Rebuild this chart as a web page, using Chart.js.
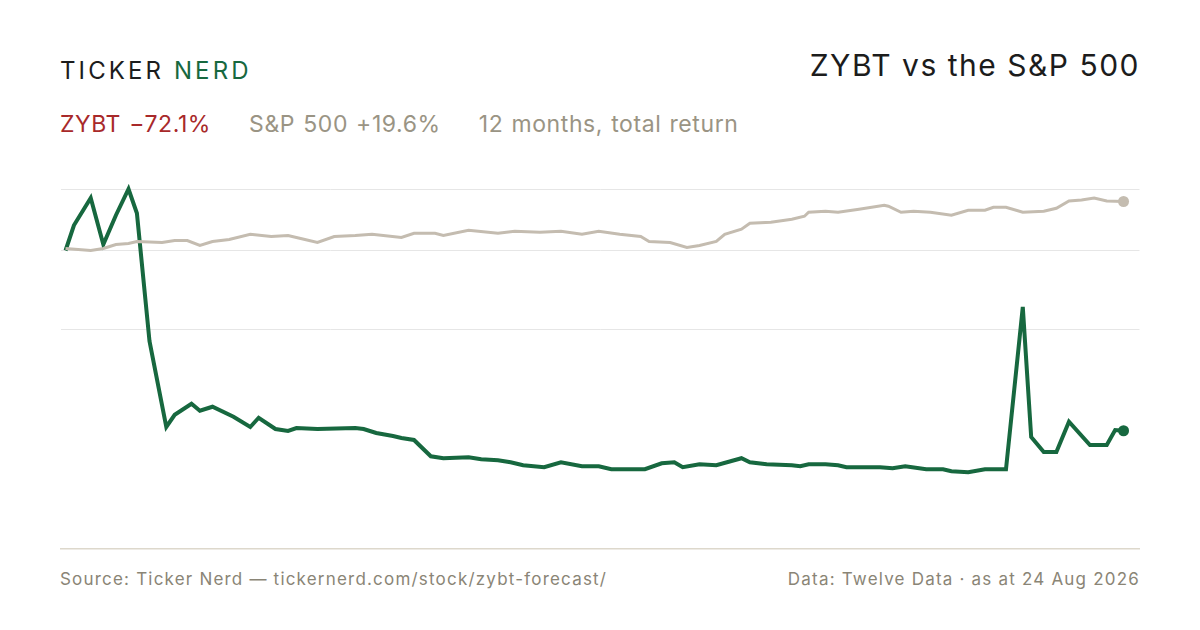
<!DOCTYPE html>
<html><head><meta charset="utf-8">
<script src="https://cdn.jsdelivr.net/npm/chart.js@4"></script>
<style>
body{margin:0;width:1200px;height:630px;background:#fff;font-family:Inter,"Noto Sans",sans-serif;position:relative;overflow:hidden}
.abs{position:absolute;white-space:nowrap}
#logo{left:60px;top:56px;font-size:24px;letter-spacing:3.1px;color:#1c1c1c}
#logo span{color:#17683f}
#title{right:60px;top:47px;font-size:30px;letter-spacing:1.5px;color:#1c1c1c}
#sub{left:60px;top:110px;font-size:23px;letter-spacing:0.6px;color:#9a9484;word-spacing:1px}
#sub .r{color:#a8292a}
#sub .g{margin-left:38px}
#foot1{left:60px;top:569px;font-size:17px;letter-spacing:1.2px;color:#8a8576}
#foot2{right:60px;top:569px;font-size:17px;letter-spacing:1.2px;color:#8a8576}
#wrap{position:absolute;left:55px;top:175px;width:1090px;height:379px}
</style></head><body>
<div class="abs" id="logo">TICKER <span>NERD</span></div>
<div class="abs" id="title">ZYBT vs the S&amp;P 500</div>
<div class="abs" id="sub"><span class="r">ZYBT −72.1%</span><span class="g">S&amp;P 500 +19.6%</span><span class="g">12 months, total return</span></div>
<div class="abs" id="foot1">Source: Ticker Nerd — tickernerd.com/stock/zybt-forecast/</div>
<div class="abs" id="foot2">Data: Twelve Data · as at 24 Aug 2026</div>
<div id="wrap"><canvas id="c"></canvas></div>
<script>
const zybtDays=[0,2,6,9,12,15,17,20,24,26,30,32,35,40,44,46,50,53,55,60,69,71,74,78,80,83,87,90,96,99,103,106,109,114,118,123,127,130,138,142,145,147,151,155,161,163,167,173,175,177,181,184,186,194,197,200,205,209,211,215,219,224,228,230,233,236,239,244,248,250,252];
const zybtValues=[0,10.1,21.0,2.4,14.1,24.6,14.9,-36.3,-70.6,-65.7,-61.3,-64.1,-62.5,-66.5,-70.6,-66.9,-71.4,-72.2,-71.0,-71.4,-71.0,-71.4,-73.0,-74.2,-75.0,-75.8,-82.3,-83.1,-82.7,-83.5,-83.9,-84.7,-85.9,-86.7,-84.7,-86.3,-86.3,-87.5,-87.5,-85.1,-84.7,-86.7,-85.5,-85.9,-83.1,-84.7,-85.5,-85.9,-86.3,-85.5,-85.5,-85.9,-86.7,-86.7,-87.1,-86.3,-87.5,-87.5,-88.3,-88.7,-87.5,-87.5,-22.6,-74.6,-80.6,-80.6,-68.5,-77.8,-77.8,-71.8,-72.1];
const spxDays=[0,6,9,12,15,17,23,26,29,32,35,39,44,49,53,56,60,64,69,73,80,83,88,90,96,103,107,113,118,123,127,132,137,139,144,148,151,155,157,161,163,168,173,176,177,181,184,189,195,196,199,202,206,211,215,219,221,224,228,233,236,239,242,245,248,252];
const spxValues=[0.8,0,0.8,2.4,2.8,3.6,3.2,4.0,4.0,2.0,3.6,4.4,6.5,5.6,6.0,4.8,3.2,5.6,6.0,6.5,5.2,6.9,6.9,6.0,8.1,6.9,7.7,7.3,7.7,6.5,7.7,6.5,5.6,3.6,3.2,1.2,2.0,3.6,6.5,8.5,10.9,11.3,12.5,13.7,15.3,15.7,15.3,16.5,18.1,17.7,15.3,15.7,15.3,14.1,16.1,16.1,17.3,17.3,15.3,15.7,16.9,19.8,20.2,21.0,19.8,19.6];
const gridValues=[24.4,0,-31.6];
const pts=(d,v)=>d.map((x,i)=>({x,y:v[i]}));
const lastR=(n)=>(ctx)=>ctx.dataIndex===n-1?5.5:0;
new Chart(document.getElementById('c'),{type:'line',
data:{datasets:[
{data:pts(spxDays,spxValues),borderColor:'#c4bcb0',backgroundColor:'#c4bcb0',borderWidth:3,pointRadius:lastR(spxDays.length),pointBorderWidth:0,tension:0},
{data:pts(zybtDays,zybtValues),borderColor:'#17683f',backgroundColor:'#17683f',borderWidth:4,pointRadius:lastR(zybtDays.length),pointBorderWidth:0,tension:0}
]},
options:{responsive:true,maintainAspectRatio:false,animation:false,layout:{padding:0},
plugins:{legend:{display:false},tooltip:{enabled:false}},
scales:{
x:{type:'linear',min:-1.2,max:255.8,ticks:{display:false},grid:{display:false,drawTicks:false},border:{display:true,color:'#ddd8cc',width:1.5}},
y:{min:-119.2,max:28,afterBuildTicks:(s)=>{s.ticks=gridValues.map(v=>({value:v}));},ticks:{display:false},grid:{color:'#e6e6e6',lineWidth:1,drawTicks:false},border:{display:false}}
}}});
</script></body></html>
